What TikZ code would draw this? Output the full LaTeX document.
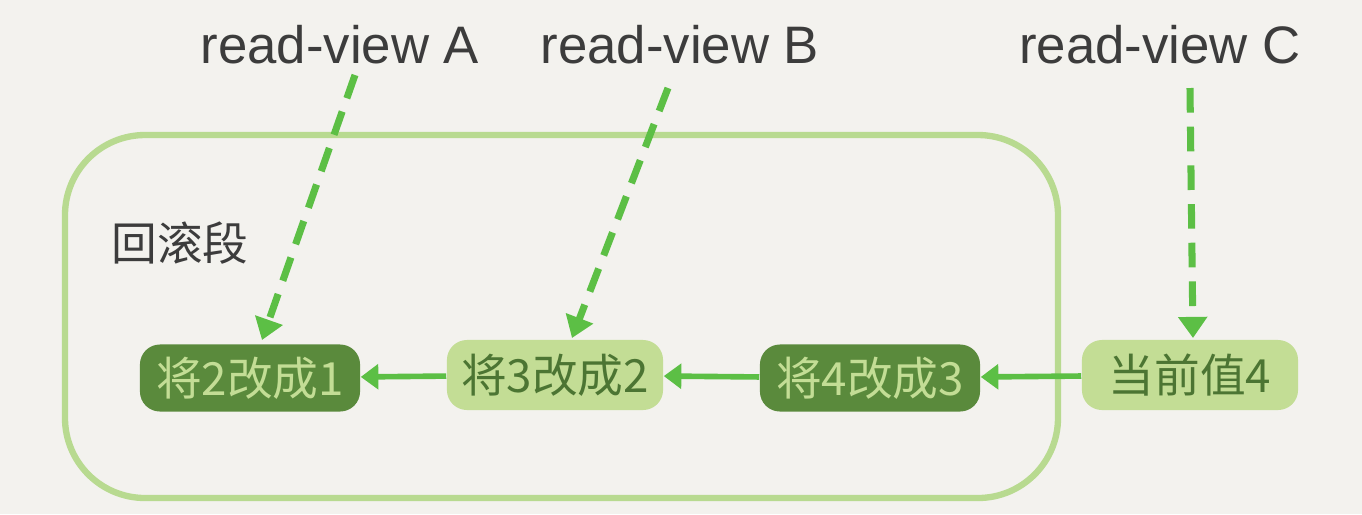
\documentclass[tikz,border=0pt]{standalone}
\usepackage{fontspec}
\setmainfont{Noto Sans CJK SC}
\newfontfamily\latinfont{Liberation Sans}
\usetikzlibrary{arrows.meta, calc}
\definecolor{bgcol}{HTML}{F3F2EE}
\definecolor{darkleaf}{HTML}{5A8A3C}
\definecolor{lightleaf}{HTML}{C3DD95}
\definecolor{arrowgreen}{HTML}{5CBF45}
\definecolor{segline}{HTML}{B8DA90}
\definecolor{inkgray}{HTML}{3C3C3C}

\begin{document}
\begin{tikzpicture}[x=0.01cm, y=-0.01cm,
    darkstep/.style={fill=darkleaf, text=lightleaf, rounded corners=0.2cm, minimum width=2.2cm, minimum height=0.67cm, font=\fontsize{13}{15}\selectfont},
    lightstep/.style={fill=lightleaf, text=darkleaf!85!black, rounded corners=0.2cm, minimum width=2.16cm, minimum height=0.7cm, font=\fontsize{13}{15}\selectfont},
    chain/.style={draw=arrowgreen, line width=1.6pt, -{Triangle[length=5pt, width=7pt]}},
    viewptr/.style={draw=arrowgreen, line width=2pt, dash pattern=on 7pt off 4pt, -{Triangle[length=6pt, width=8pt]}},
    viewlabel/.style={text=inkgray, font=\latinfont\fontsize{15}{18}\selectfont}]

    \fill[bgcol] (0,0) rectangle (1362,514);

    % undo segment
    \draw[segline, line width=1.8pt, rounded corners=0.8cm] (65,135) rectangle (1058,498);
    \node (seg) [text=inkgray, font=\fontsize{13}{15}\selectfont] at (180,243) {回滚段};

    % version chain
    \node (v1) [darkstep] at (250,378) {将2改成1};
    \node (v2) [lightstep] at (555,375) {将3改成2};
    \node (v3) [darkstep] at (870,378) {将4改成3};
    \node (v4) [lightstep] at (1190,375) {当前值4};

    \draw[chain] (v2) -- (v1);
    \draw[chain] (v3) -- (v2);
    \draw[chain] (v4) -- (v3);

    % read views
    \node (rvA) [viewlabel] at (340,45) {read-view A};
    \node (rvB) [viewlabel] at (680,45) {read-view B};
    \node (rvC) [viewlabel] at (1160,45) {read-view C};

    \coordinate (tA) at (355,75);
    \coordinate (tB) at (668,88);
    \coordinate (tC) at (1190,88);
    \coordinate (hA) at (262,340);
    \coordinate (hB) at (572,338);
    \coordinate (hC) at (1193,338);

    \draw[viewptr] (tA) -- (hA);
    \draw[viewptr] (tB) -- (hB);
    \draw[viewptr] (tC) -- (hC);

\end{tikzpicture}
\end{document}
